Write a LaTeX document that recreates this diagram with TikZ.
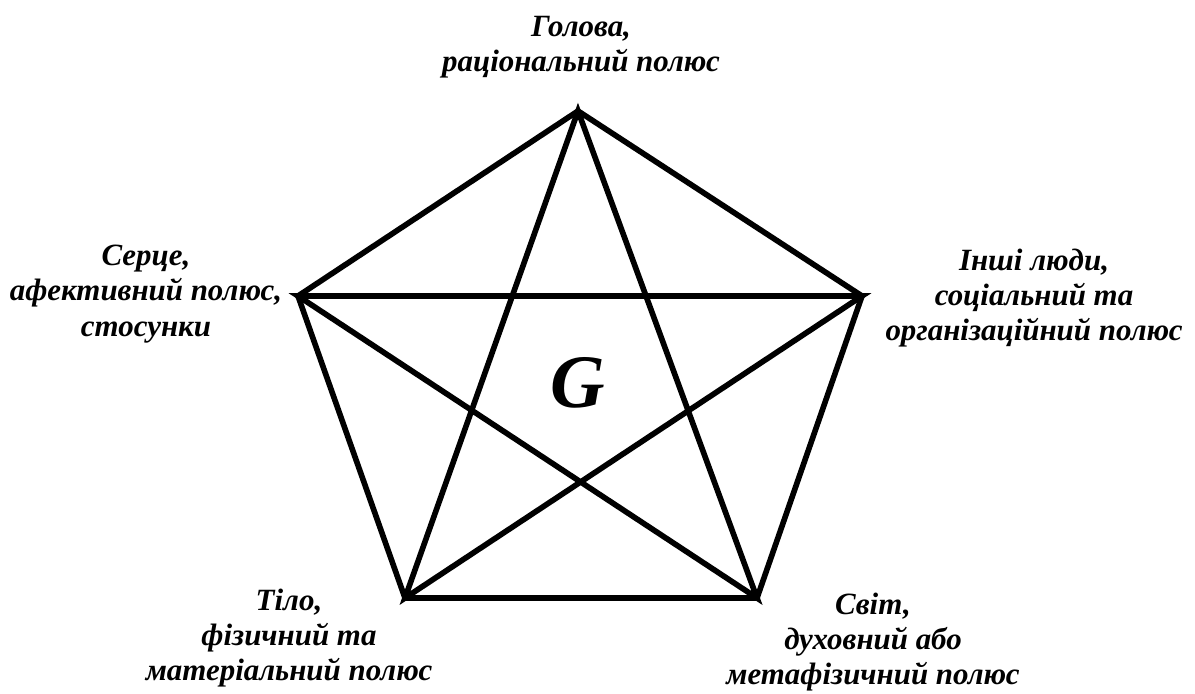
\documentclass[tikz,border=0pt]{standalone}
\usepackage{fontspec}
\setmainfont{Liberation Serif}
\usetikzlibrary{positioning}

\begin{document}
\begin{tikzpicture}[x=0.02cm, y=-0.02cm,
    pole/.style={align=center, font=\fontsize{17.6}{20}\selectfont\bfseries\itshape, inner sep=0pt},
    edge/.style={line width=3.2pt, line join=miter}]
    \useasboundingbox (0,0) rectangle (1195,693);

    % Vertices
    \coordinate (head)   at (578,111);
    \coordinate (heart)  at (298,296);
    \coordinate (others) at (862,296);
    \coordinate (body)   at (405,598);
    \coordinate (world)  at (757,598);

    % Pentagon
    \draw[edge] (head) -- (others) -- (world) -- (body) -- (heart) -- cycle;

    % Star
    \draw[edge] (head) -- (body) -- (others) -- (heart) -- (world) -- cycle;

    % Labels
    \node[pole] (headlbl) at (581,47) {Голова,\\раціональний полюс};
    \node[pole] (heartlbl) at (146,294) {Серце,\\афективний полюс,\\стосунки};
    \node[pole] (otherslbl) at (1034,298) {Інші люди,\\соціальний та\\організаційний полюс};
    \node[pole] (bodylbl) at (289,638) {Тіло,\\фізичний та\\матеріальний полюс};
    \node[pole] (worldlbl) at (873,642) {Світ,\\духовний або\\метафізичний полюс};

    % Center
    \node[font=\fontsize{43}{46}\selectfont\bfseries\itshape] (g) at (578,383) {G};
\end{tikzpicture}
\end{document}
